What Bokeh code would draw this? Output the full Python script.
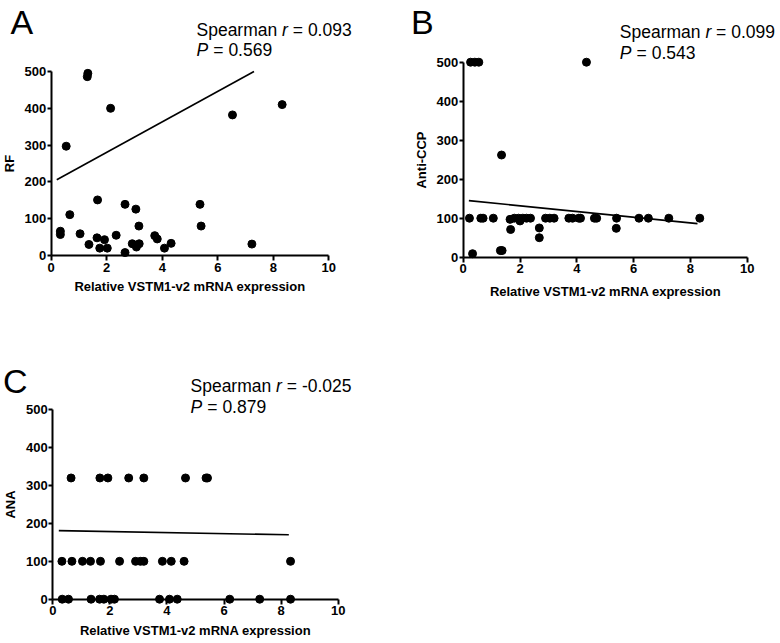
from bokeh.plotting import figure
from bokeh.layouts import column, row
from bokeh.models import Range1d, Label, SingleIntervalTicker
from bokeh.embed import file_html
from bokeh.resources import INLINE

# ---------------- data ----------------
x_label = "Relative VSTM1-v2 mRNA expression"

# Panel A : RF
rf_x = [1.32, 1.30, 2.14, 0.54, 6.53, 8.32, 1.67, 0.67, 2.66, 3.05, 5.36, 5.40, 3.16,
        0.33, 0.33, 1.04, 1.65, 1.92, 2.34, 1.36, 1.75, 2.02, 2.66, 2.92, 3.07, 3.17,
        3.73, 3.82, 4.08, 4.32, 7.23]
rf_y = [495, 486, 400, 297, 382, 410, 151, 111, 139, 126, 139, 80, 80,
        66, 57, 59, 48, 43, 55, 30, 20, 20, 8, 32, 23, 32,
        54, 45, 20, 33, 31]
rf_fit_x = [0.20, 8.32]
rf_fit_y = [206, 542]
rf_r = "0.093"
rf_p = "0.569"

# Panel B : Anti-CCP
ccp_x = [0.26, 0.41, 0.55, 4.34, 1.35,
         0.22, 0.62, 0.70, 1.06, 1.65, 1.80, 1.95, 2.00, 2.10, 2.23, 2.37,
         2.90, 3.05, 3.20, 3.72, 3.85, 4.07, 4.13, 4.62, 4.70,
         5.40, 6.19, 6.52, 7.24, 8.33,
         1.67, 2.68, 2.68, 0.33, 1.31, 1.37, 5.39]
ccp_y = [500, 500, 500, 500, 262,
         100, 100, 100, 100, 97, 100, 100, 93, 100, 100, 100,
         100, 100, 100, 100, 100, 100, 100, 100, 100,
         100, 100, 100, 100, 100,
         71, 75, 50, 9, 17, 17, 74]
ccp_fit_x = [0.20, 8.25]
ccp_fit_y = [145, 86]
ccp_r = "0.099"
ccp_p = "0.543"

# Panel C : ANA
ana_x = [0.64, 1.65, 1.93, 2.66, 3.19, 4.65, 5.37, 5.42,
         0.32, 0.67, 1.04, 1.32, 1.67, 2.34, 2.90, 3.07, 3.19, 3.84, 4.15, 4.60, 8.33,
         0.33, 0.55, 1.34, 1.64, 1.79, 2.04, 2.16, 3.74, 4.09, 4.36, 6.20, 7.25, 8.33]
ana_y = [320, 320, 320, 320, 320, 320, 320, 320,
         100, 100, 100, 100, 100, 100, 100, 100, 100, 100, 100, 100, 100,
         0, 0, 0, 0, 0, 0, 0, 0, 0, 0, 0, 0, 0]
ana_fit_x = [0.21, 8.27]
ana_fit_y = [181, 170]
ana_r = "-0.025"
ana_p = "0.879"

X_MAX = 10
Y_MAX = 500
FONT = "Liberation Sans"
STAT_SIZE = 17.5
LETTER_SIZE = 34
BASE_FIX = 0.42   # em shift so that the glyph baseline lands on the wanted pixel row


def make_panel(xs, ys, fx, fy, ylabel, letter, r_txt, p_txt, g):
    W, H = g["W"], g["H"]
    x0, x10, y0, y500 = g["x0"], g["x10"], g["y0"], g["y500"]
    sx = (x10 - x0) / X_MAX
    sy = (y0 - y500) / Y_MAX

    p = figure(frame_width=W, frame_height=H, title=None,
               min_border=0, min_border_left=0, min_border_right=0,
               min_border_top=0, min_border_bottom=0,
               x_range=Range1d(-x0 / sx, (W - x0) / sx),
               y_range=Range1d((y0 - H) / sy, y0 / sy),
               output_backend="svg", toolbar_location=None)
    p.outline_line_color = None
    p.grid.visible = False
    p.background_fill_color = "white"
    p.border_fill_color = "white"

    p.xaxis.ticker = SingleIntervalTicker(interval=2, num_minor_ticks=0)
    p.yaxis.ticker = SingleIntervalTicker(interval=100, num_minor_ticks=0)
    p.xaxis.axis_label = x_label
    p.yaxis.axis_label = ylabel
    p.xaxis.fixed_location = 0
    p.yaxis.fixed_location = 0
    p.xaxis.bounds = (0, X_MAX)
    p.yaxis.bounds = (0, Y_MAX)
    for ax in (p.xaxis, p.yaxis):
        ax.axis_line_width = 2
        ax.axis_line_color = "black"
        ax.major_tick_line_width = 2
        ax.major_tick_line_color = "black"
        ax.major_tick_in = 0
        ax.minor_tick_out = 0
        ax.minor_tick_in = 0
        ax.major_label_text_font = FONT
        ax.major_label_text_font_style = "bold"
        ax.major_label_text_font_size = "13px"
        ax.major_label_text_color = "black"
        ax.axis_label_text_font = FONT
        ax.axis_label_text_font_style = "bold"
        ax.axis_label_text_font_size = "13px"
        ax.axis_label_text_color = "black"
    p.yaxis.major_tick_out = 4
    p.yaxis.major_label_standoff = 1
    p.yaxis.axis_label_standoff = 5
    p.xaxis.major_tick_out = 5
    p.xaxis.major_label_standoff = 2
    p.xaxis.axis_label_standoff = g.get("xls", 4)

    # regression line, cut where it leaves the 0..500 axis box
    lx = list(fx)
    ly = list(fy)
    if ly[1] > Y_MAX:
        lx[1] = lx[0] + (Y_MAX - ly[0]) * (lx[1] - lx[0]) / (ly[1] - ly[0])
        ly[1] = Y_MAX
    p.line(lx, ly, line_width=1.6, color="black")
    p.scatter(xs, ys, size=8, color="black")

    def lab(px, py, text, size, style="normal", off=0):
        py = py - BASE_FIX * size
        p.add_layout(Label(x=(px - x0) / sx, y=(y0 - py) / sy, x_offset=off, text=text,
                           text_font=FONT, text_font_size=f"{size}px",
                           text_font_style=style, text_color="black",
                           text_baseline="alphabetic", text_align="left"))

    lpx, lpy = g["letter"]
    lab(lpx, lpy, letter, LETTER_SIZE)
    spx, spy = g["stats"]
    lab(spx, spy, "Spearman", STAT_SIZE)
    lab(spx, spy, "r", STAT_SIZE, "italic", off=85.6)
    lab(spx, spy, "= " + r_txt, STAT_SIZE, off=96.3)
    lab(spx, spy + 20.6, "P", STAT_SIZE, "italic")
    lab(spx, spy + 20.6, "= " + p_txt, STAT_SIZE, off=16.8)
    return p


gA = dict(W=395, H=305, x0=50.7, x10=328.3, y0=255.0, y500=71.0,
          letter=(10.0, 35.5), stats=(196.0, 36.7), xls=4)
gB = dict(W=385, H=305, x0=67.7, x10=351.7, y0=256.7, y500=61.7,
          letter=(15.5, 35.5), stats=(224.3, 39.3), xls=7)
gC = dict(W=400, H=335, x0=52.3, x10=337.7, y0=293.7, y500=104.3,
          letter=(2.5, 90.0), stats=(190.0, 88.3), xls=4)

pA = make_panel(rf_x, rf_y, rf_fit_x, rf_fit_y, "RF", "A", rf_r, rf_p, gA)
pB = make_panel(ccp_x, ccp_y, ccp_fit_x, ccp_fit_y, "Anti-CCP", "B", ccp_r, ccp_p, gB)
pC = make_panel(ana_x, ana_y, ana_fit_x, ana_fit_y, "ANA", "C", ana_r, ana_p, gC)

layout = column(row(pA, pB), pC)
open("out.html", "w").write(file_html(layout, INLINE))
